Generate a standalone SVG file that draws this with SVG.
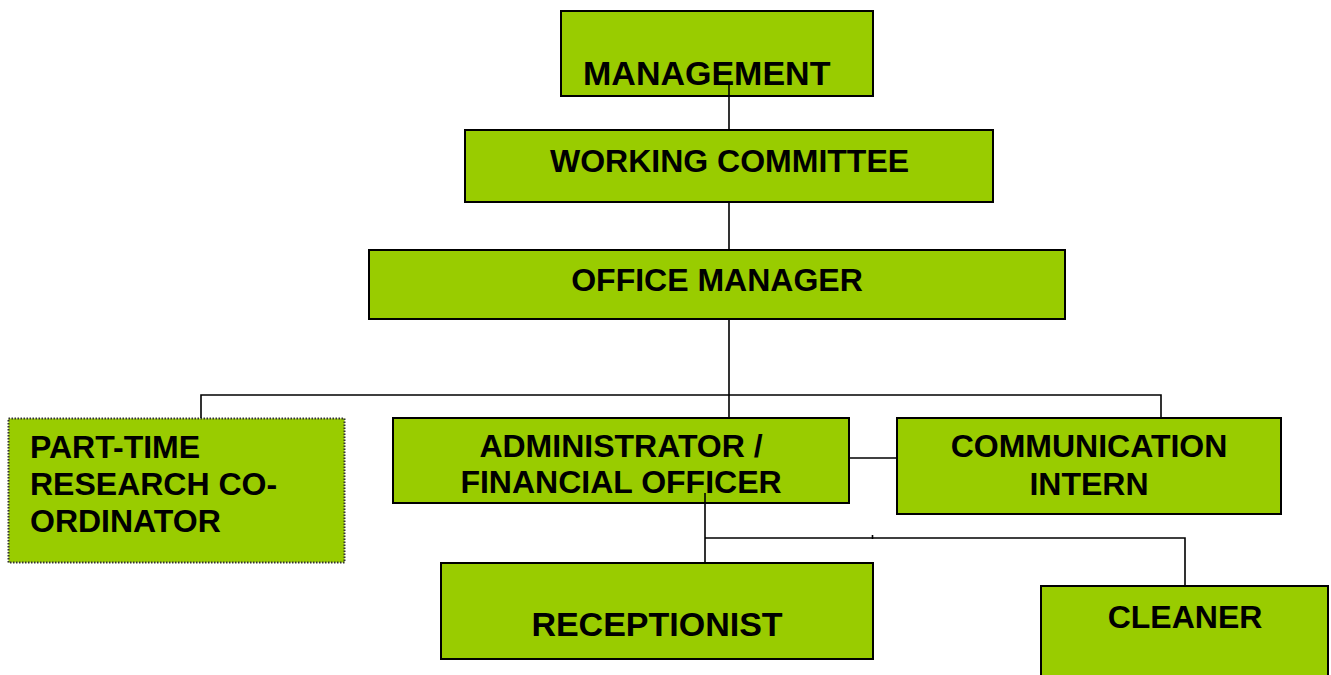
<svg xmlns="http://www.w3.org/2000/svg" width="1331" height="675" viewBox="0 0 1331 675">
<style>
.box{fill:#99cc00;stroke:#000;stroke-width:2}
.dot{fill:#99cc00;stroke:#333;stroke-width:2;stroke-dasharray:1.5 1.5}
.t{font-family:"Liberation Sans",Arial,sans-serif;font-weight:bold;font-size:32px;fill:#000}
.c{text-anchor:middle}
.ln{stroke:#000;stroke-width:1.6;fill:none}
</style>
<rect width="1331" height="675" fill="#fff"/>
<g id="management"><rect class="box" x="561" y="11" width="312" height="85"/><text class="t" x="583" y="85" style="font-size:34px">MANAGEMENT</text></g>
<g id="working-committee"><rect class="box" x="465" y="130" width="528" height="72"/><text class="t" x="550" y="172">WORKING COMMITTEE</text></g>
<g id="office-manager"><rect class="box" x="369" y="250" width="696" height="69"/><text class="t c" x="717" y="291">OFFICE MANAGER</text></g>
<g id="part-time"><rect class="dot" x="8.5" y="418.5" width="336" height="144"/><text class="t" x="30" y="458">PART-TIME</text><text class="t" x="30" y="495">RESEARCH CO-</text><text class="t" x="30" y="532">ORDINATOR</text></g>
<g id="administrator"><rect class="box" x="393" y="418" width="456" height="85"/><text class="t c" x="621" y="457">ADMINISTRATOR /</text><text class="t c" x="621" y="493">FINANCIAL OFFICER</text></g>
<g id="communication"><rect class="box" x="897" y="418" width="384" height="96"/><text class="t c" x="1089" y="457">COMMUNICATION</text><text class="t c" x="1089" y="495">INTERN</text></g>
<g id="receptionist"><rect class="box" x="441" y="563" width="432" height="96"/><text class="t c" x="657" y="636" style="font-size:34px">RECEPTIONIST</text></g>
<g id="cleaner"><rect class="box" x="1041" y="586" width="287" height="120"/><text class="t c" x="1185" y="628">CLEANER</text></g>
<g id="connectors">
<path class="ln" d="M729 85V130M729 202V250M729 319V418"/>
<path class="ln" d="M201 418V395H1161V418"/>
<path class="ln" d="M849 458H897"/>
<path class="ln" d="M705 493V563M705 538H1185V586"/>
<path class="ln" d="M872.5 535V539" stroke-width="1"/>
</g>
</svg>
